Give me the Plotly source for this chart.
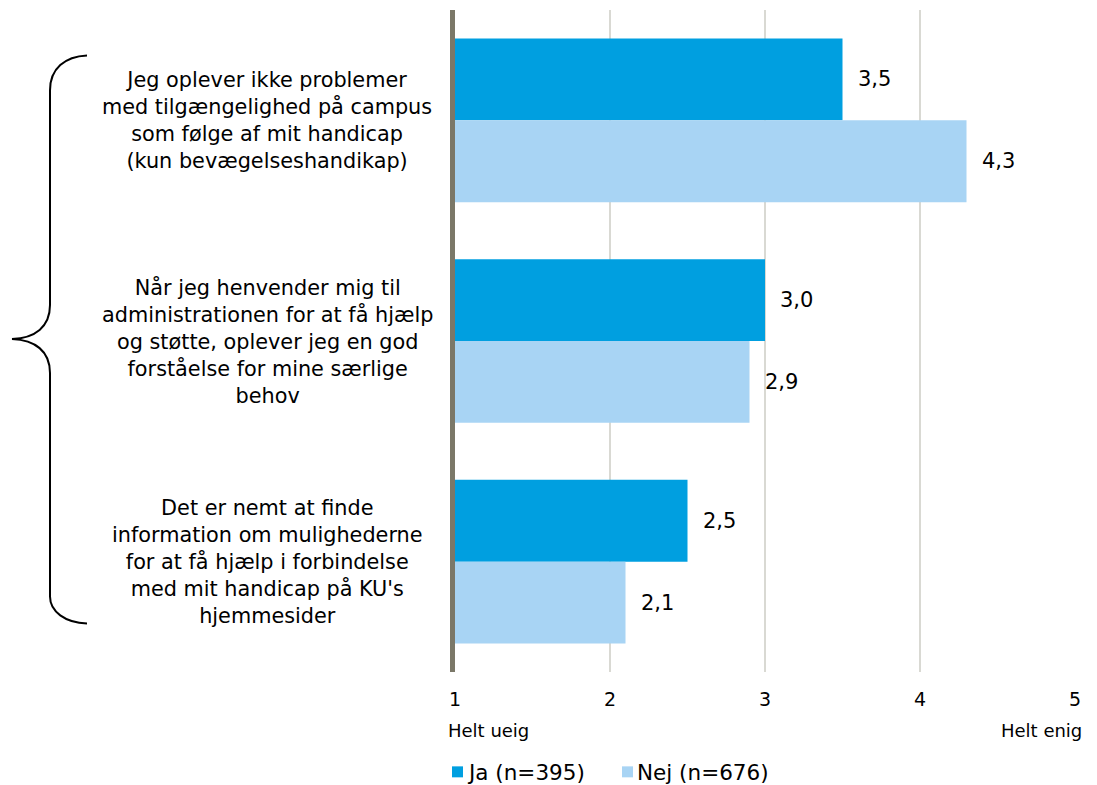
import plotly.graph_objects as go

# data
categories = [
    "Jeg oplever ikke problemer<br>med tilgængelighed på campus<br>som følge af mit handicap<br>(kun bevægelseshandikap)",
    "Når jeg henvender mig til<br>administrationen for at få hjælp<br>og støtte, oplever jeg en god<br>forståelse for mine særlige<br>behov",
    "Det er nemt at finde<br>information om mulighederne<br>for at få hjælp i forbindelse<br>med mit handicap på KU's<br>hjemmesider",
]
cat_ids = ["q1", "q2", "q3"]
ja_values = [3.5, 3.0, 2.5]
nej_values = [4.3, 2.9, 2.1]
series_names = ["Ja (n=395)", "Nej (n=676)"]
series_colors = ["#009fe0", "#a8d4f4"]
x_ticks = [1, 2, 3, 4, 5]

FONT = "DejaVu Sans"
OFF = 8  # page body margin
W, H = 1097 - 2 * OFF, 785 - OFF
L, R, T, B = 447, 14, 1.5, 112.5


# screen pixel -> paper coords
def px(x):
    return (x - OFF - L) / (W - L - R)


def py(y):
    return (H - B - (y - OFF)) / (H - T - B)


fig = go.Figure()
for name, vals, col in zip(series_names, [ja_values, nej_values], series_colors):
    fig.add_trace(go.Bar(y=cat_ids, x=vals, base=0, orientation="h", name=name,
                         marker_color=col, marker_line_width=0, showlegend=False))

annotations = []
# value labels
for i, vals in enumerate([ja_values, nej_values]):
    for c, v in zip(cat_ids, vals):
        annotations.append(dict(
            x=v, y=c, xref="x", yref="y", text=f"{v:.1f}".replace(".", ","),
            showarrow=False, xanchor="left", xshift=13, yshift=(41 if i == 0 else -41),
            font=dict(family=FONT, size=21, color="#000000")))
# category labels
for c, txt in zip(cat_ids, categories):
    annotations.append(dict(
        x=px(267), y=c, xref="paper", yref="y", text=txt, showarrow=False,
        xanchor="center", yanchor="middle", align="center",
        font=dict(family=FONT, size=20.8, color="#000000")))
# scale end labels
annotations.append(dict(x=px(446), y=py(731), xref="paper", yref="paper", text="Helt ueig",
                        showarrow=False, xanchor="left", yanchor="middle",
                        font=dict(family=FONT, size=18, color="#000000")))
annotations.append(dict(x=px(1084), y=py(731), xref="paper", yref="paper", text="Helt enig",
                        showarrow=False, xanchor="right", yanchor="middle",
                        font=dict(family=FONT, size=18, color="#000000")))

shapes = []
# legend (drawn by hand so it does not push the margins)
for name, col, sx in zip(series_names, series_colors, [452, 622]):
    shapes.append(dict(type="rect", xref="paper", yref="paper",
                       x0=px(sx), x1=px(sx + 11), y0=py(767), y1=py(778),
                       fillcolor=col, line_width=0))
    annotations.append(dict(x=px(sx + 13), y=py(773), xref="paper", yref="paper", text=name,
                            showarrow=False, xanchor="left", yanchor="middle",
                            font=dict(family=FONT, size=21.5, color="#000000")))

# brace on the left
brace = (
    f"M {px(87)},{py(55)} "
    f"C {px(65)},{py(56)} {px(50)},{py(68)} {px(50)},{py(90)} "
    f"L {px(50)},{py(305)} "
    f"C {px(50)},{py(327)} {px(35)},{py(338)} {px(12)},{py(339)} "
    f"C {px(35)},{py(340)} {px(50)},{py(351)} {px(50)},{py(373)} "
    f"L {px(50)},{py(597)} "
    f"C {px(50)},{py(612)} {px(65)},{py(623)} {px(87)},{py(624)}"
)
shapes.append(dict(type="path", path=brace, xref="paper", yref="paper",
                   line=dict(color="#000000", width=2)))

fig.update_layout(
    width=W, height=H,
    margin=dict(l=L, r=R, t=T, b=B, autoexpand=False),
    paper_bgcolor="white", plot_bgcolor="white",
    barmode="group", bargap=0.258, bargroupgap=0,
    font=dict(family=FONT, color="#000000"),
    showlegend=False,
    xaxis=dict(range=[1, 5], tickvals=x_ticks, ticktext=[str(t) for t in x_ticks],
               showgrid=True, gridcolor="#d9d9d3", gridwidth=2, zeroline=False,
               showline=False, ticks="outside", ticklen=10, tickcolor="rgba(0,0,0,0)",
               tickfont=dict(family=FONT, size=19, color="#000000"), fixedrange=True),
    yaxis=dict(categoryorder="array", categoryarray=cat_ids, autorange="reversed",
               showticklabels=False, showgrid=False, zeroline=False,
               showline=True, linecolor="#7b7868", linewidth=5, fixedrange=True),
    annotations=annotations,
    shapes=shapes,
)

fig.write_html("out.html")
